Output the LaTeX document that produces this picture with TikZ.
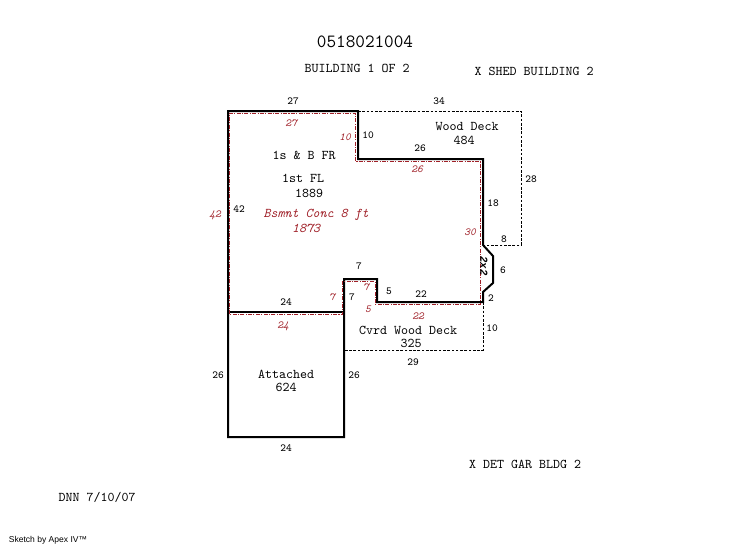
\documentclass[tikz,border=0pt]{standalone}
\usepackage{fontspec}
\setmainfont{Latin Modern Mono}
\newfontfamily\apexfont{Liberation Sans}
\newfontfamily\bayfont{Liberation Mono}
\definecolor{redline}{HTML}{A02028}
\begin{document}
\begin{tikzpicture}[x=0.75pt,y=-0.75pt,
    wall/.style={draw,line width=1.5pt,line join=miter},
    deck/.style={draw,line width=0.6pt,dash pattern=on 2pt off 1.2pt},
    bsmt/.style={draw=redline,line width=0.6pt,dash pattern=on 3pt off 1pt on 0.8pt off 1pt},
    big/.style={inner sep=0pt,font=\fontsize{14}{16}\selectfont},
    txt/.style={inner sep=0pt,font=\fontsize{10}{11}\selectfont},
    dim/.style={inner sep=0pt,font=\fontsize{8.1}{9}\selectfont},
    rtxt/.style={inner sep=0pt,text=redline,font=\fontsize{10}{11}\itshape\selectfont},
    rdim/.style={inner sep=0pt,text=redline,font=\fontsize{8.1}{9}\itshape\selectfont}]
                \useasboundingbox[fill=white] (0,0) rectangle (746,547);
                % decks
                \draw[deck] (358,111) -- (521,111) -- (521,245) -- (483,245);
                \draw[deck] (483,302) -- (483,350) -- (344,350);
                % walls
                \draw[wall] (228,111) -- (358,111) -- (358,159) -- (483,159) -- (483,245) -- (493,256) -- (493,283) -- (483,292) -- (483,302) -- (377,302) -- (377,279) -- (344,279) -- (344,437) -- (228,437) -- cycle;
                \draw[wall] (228,312) -- (344,312);
                % basement line
                \draw[bsmt] (229,113.5) -- (355.5,113.5) -- (355.5,161.5) -- (480.5,161.5) -- (480.5,304.5) -- (375,304.5) -- (375,281.5) -- (342,281.5) -- (342,314.5) -- (229,314.5) -- cycle;
                % headings
                \node[big](title) at (365,42){0518021004};
                \node[txt](bldg) at (357,68){BUILDING 1 OF 2};
                \node[txt](shed) at (534,71){X SHED BUILDING 2};
                \node[txt](gar) at (525,464){X DET GAR BLDG 2};
                \node[txt](dnn) at (97,497){DNN 7/10/07};
                \node[inner sep=0pt,font=\apexfont\fontsize{6.4}{8}\selectfont](apex) at (48,540){Sketch by Apex IV\texttrademark};
                % areas
                \node[txt](frame) at (304,155){1s \& B FR};
                \node[txt](fl) at (303,178){1st FL};
                \node[txt](flarea) at (309,193){1889};
                \node[rtxt](bsmtname) at (316,215){Bsmnt Conc 8 ft};
                \node[rtxt](bsmtarea) at (306,228){1873};
                \node[txt](wood) at (467,126){Wood Deck};
                \node[txt](woodarea) at (464,140){484};
                \node[txt](cvrd) at (408,330){Cvrd Wood Deck};
                \node[txt](cvrdarea) at (411,343){325};
                \node[txt](att) at (286,374){Attached};
                \node[txt](attarea) at (286,387){624};
                \node[inner sep=0pt,font=\bayfont\fontsize{8}{9}\bfseries\itshape\selectfont,rotate=-90](bay) at (484,266){2x2};
                % wall lengths
                \node[dim](a1) at (293,101){27};
                \node[dim](a2) at (439,101){34};
                \node[dim](a3) at (368,135){10};
                \node[dim](a4) at (420,148){26};
                \node[dim](a5) at (531,179){28};
                \node[dim](a6) at (493,203){18};
                \node[dim](a7) at (239,209){42};
                \node[dim](a8) at (504,239){8};
                \node[dim](a9) at (359,266){7};
                \node[dim](a10) at (503,270){6};
                \node[dim](a11) at (389,291){5};
                \node[dim](a12) at (421,294){22};
                \node[dim](a13) at (491,298){2};
                \node[dim](a14) at (286,302){24};
                \node[dim](a15) at (352,297){7};
                \node[dim](a16) at (492,328){10};
                \node[dim](a17) at (413,362){29};
                \node[dim](a18) at (218,375){26};
                \node[dim](a19) at (354,375){26};
                \node[dim](a20) at (286,448){24};
                % basement lengths
                \node[rdim](b1) at (291,123){27};
                \node[rdim](b2) at (345,137){10};
                \node[rdim](b3) at (417,169){26};
                \node[rdim](b4) at (215,215){42};
                \node[rdim](b5) at (470,232){30};
                \node[rdim](b6) at (366,287){7};
                \node[rdim](b7) at (332,297){7};
                \node[rdim](b8) at (368,309){5};
                \node[rdim](b9) at (418,316){22};
                \node[rdim](b10) at (283,326){24};
            \end{tikzpicture}
\end{document}
